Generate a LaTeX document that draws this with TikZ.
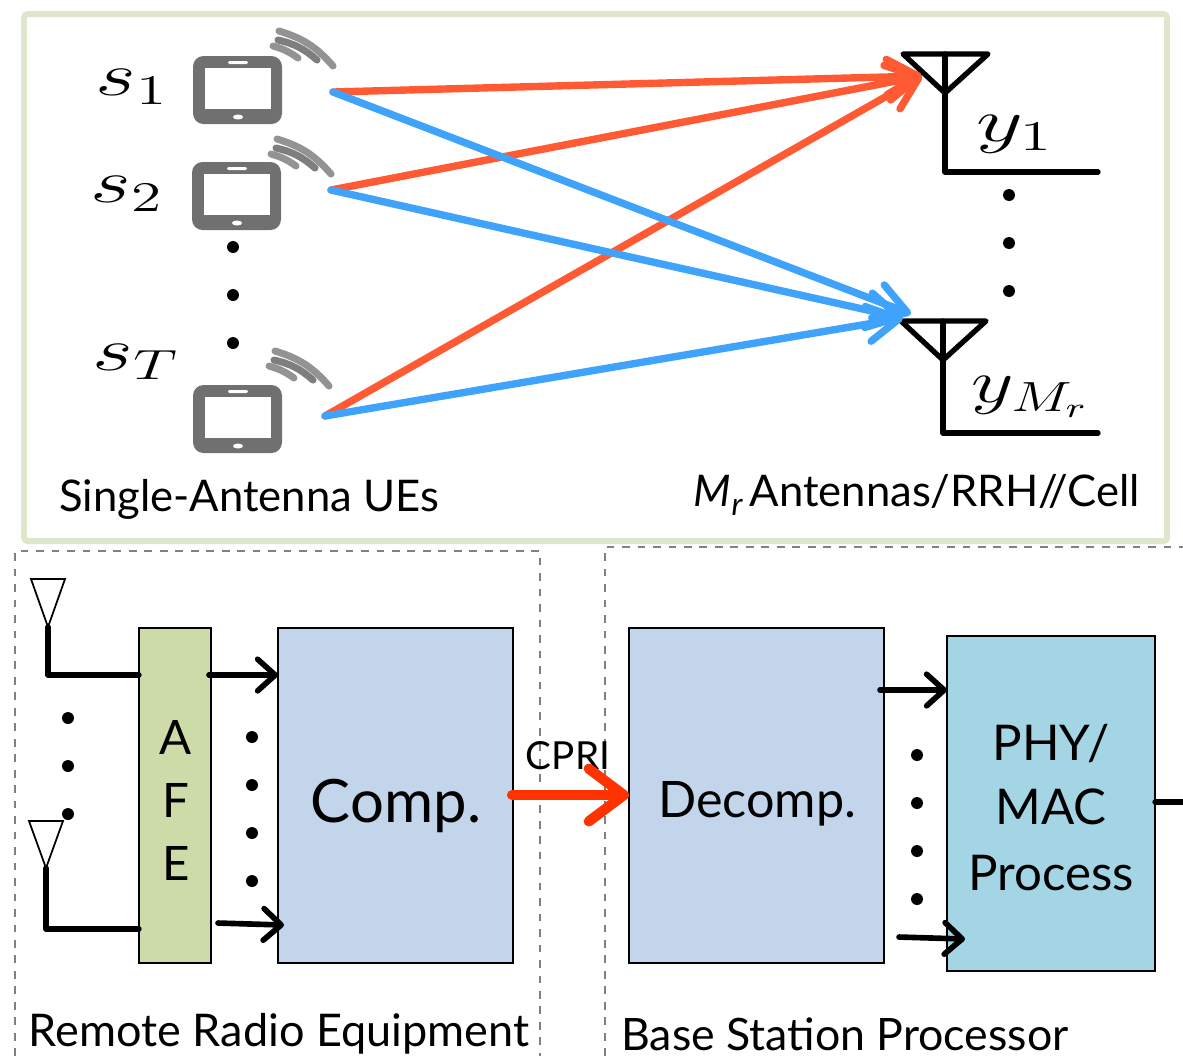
\documentclass[tikz,border=0pt]{standalone}
\usepackage{fontspec}
\setmainfont{Lato}
\usepackage{amsmath}
\usepackage{graphicx}
\usetikzlibrary{arrows.meta}
\definecolor{framegreen}{HTML}{DEE7CB}
\definecolor{afegreen}{HTML}{CDDBA9}
\definecolor{compblue}{HTML}{C3D5EA}
\definecolor{phyblue}{HTML}{A3D5E5}
\definecolor{rayred}{HTML}{FF5A33}
\definecolor{rayblue}{HTML}{3FA3FB}
\definecolor{cprired}{HTML}{FF3300}
\definecolor{phonegray}{HTML}{707070}
\tikzset{
  block/.style={draw=black, line width=0.45pt, anchor=north west, inner sep=0pt, outer sep=0pt},
  rayr/.style={->, rayred, line width=2.1pt, line cap=round},
  rayb/.style={->, rayblue, line width=2.1pt, line cap=round},
  mast/.style={black, line width=1.5pt, line cap=round, line join=round},
  feed/.style={->, black, line width=1.6pt, line cap=round},
  boxline/.style={gray, line width=0.45pt, dash pattern=on 2.2pt off 2.2pt},
  dotnode/.style={circle, fill=black, inner sep=0pt, minimum size=3.4pt},
}
\newcommand{\txt}[1]{\fontsize{#1}{#1}\selectfont}
\newcommand{\wide}[2]{\txt{17}\scalebox{#1}[1]{$#2$}}
% phone drawn from its top left corner, arcs moved by #3 and #4
\newcommand{\mobile}[4]{
  \begin{scope}[shift={(#1,#2)}]
    \fill[phonegray, rounded corners=3pt] (0,0) rectangle (89,68);
    \fill[white] (12,12) rectangle (78,53);
    \fill[white, rounded corners=0.4pt] (35,5) rectangle (55,8);
    \fill[white] (45,61) ellipse (5 and 2.5);
    \begin{scope}[shift={(#3,#4)}]
      \draw[gray!85, line width=2pt, line cap=round] (86,-25) to[bend left=16] (140,10);
      \draw[phonegray!90, line width=2pt, line cap=round] (85,-16) to[bend left=14] (124,4);
      \draw[gray!85, line width=2pt, line cap=round] (80,-10) to[bend left=10] (105,2);
    \end{scope}
  \end{scope}
}
\begin{document}
\begin{tikzpicture}[x=0.01cm, y=-0.01cm, >={Straight Barb[round, length=9pt, width=10pt]}]
  \useasboundingbox (0,0) rectangle (1183,1056);
  % upper frame
  \draw[framegreen, line width=1.7pt, rounded corners=1pt] (24,14) rectangle (1167,541);

  % phones
  \mobile{193}{56}{0}{0}
  \mobile{192}{162}{-1}{2}
  \mobile{193}{385}{-4}{-9}

  % labels of the phones
  \node (s1) at (132,87) {\wide{1.45}{s_1}};
  \node (s2) at (127,194) {\wide{1.45}{s_2}};
  \node (sT) at (136,362) {\wide{1.45}{s_T}};
  \node[dotnode] (d1) at (233,247) {};
  \node[dotnode] (d2) at (233,295) {};
  \node[dotnode] (d3) at (233,343) {};

  % antennas
  \draw[mast] (903,54) -- (988,54) -- (945,93) -- cycle;
  \draw[mast] (945,54) -- (945,172) -- (1098,172);
  \draw[mast] (901,321) -- (986,321) -- (943,360) -- cycle;
  \draw[mast] (943,321) -- (943,433) -- (1098,433);
  \node (y1) at (1015,134) {\wide{1.5}{y_1}};
  \node (yM) at (1031,397) {\wide{1.36}{y_{M_r}}};
  \node[dotnode] (d4) at (1009,195) {};
  \node[dotnode] (d5) at (1009,243) {};
  \node[dotnode] (d6) at (1009,291) {};

  % ray ends
  \coordinate (ue1) at (333,92);
  \coordinate (ue2) at (331,190);
  \coordinate (ue3) at (325,416);
  \coordinate (rx1) at (922,76);
  \coordinate (rx2) at (911,314);
  \coordinate (rx3) at (903,318);

  \draw[rayr] (ue1) -- (rx1);
  \draw[rayr] (ue2) -- (rx1);
  \draw[rayr] (ue3) -- (rx1);
  \draw[rayb] (ue1) -- (rx2);
  \draw[rayb] (ue2) -- (rx3);
  \draw[rayb] (ue3) -- (rx3);

  \node (ues) at (249,499) {\txt{12.4}Single-Antenna UEs};
  \node (cell) at (917,495) {\txt{12.4}\textit{M\raisebox{-0.4ex}{\txt{9}r}}\,Antennas/RRH//Cell};

  % dashed boxes
  \draw[boxline] (15,1056) -- (15,551) -- (540,551) -- (540,1056);
  \draw[boxline] (605,1056) -- (605,547) -- (1183,547);

  % blocks
  \node[block, fill=afegreen, minimum width=72*0.2845pt, minimum height=335*0.2845pt] (afe) at (139,628) {};
  \node[block, fill=compblue, minimum width=235*0.2845pt, minimum height=335*0.2845pt] (comp) at (278,628) {};
  \node[block, fill=compblue, minimum width=255*0.2845pt, minimum height=335*0.2845pt] (decomp) at (629,628) {};
  \node[block, fill=phyblue, minimum width=208*0.2845pt, minimum height=335*0.2845pt] (phy) at (947,636) {};

  \node (a) at (176,737) {\txt{13.5}A};
  \node (f) at (176,800) {\txt{13.5}F};
  \node (e) at (176,863) {\txt{13.5}E};
  \node (comptxt) at (396,806) {\txt{17}Comp.};
  \node (decomptxt) at (757,804) {\txt{14.3}Decomp.};
  \node (phytxt) at (1051,743) {\txt{14}PHY/};
  \node (mactxt) at (1051,807) {\txt{14}MAC};
  \node (proctxt) at (1051,873) {\txt{14}Process};

  % small antennas
  \draw[black, line width=0.5pt] (31,579) -- (65,579) -- (48,627) -- cycle;
  \draw[black, line width=0.5pt] (29,821) -- (63,821) -- (46,868) -- cycle;
  \draw[mast] (48,627) -- (48,675) -- (afe.west |- 0,675);
  \draw[mast] (46,868) -- (46,929) -- (afe.west |- 0,929);

  \node[dotnode] (d7) at (68,718) {};
  \node[dotnode] (d8) at (68,766) {};
  \node[dotnode] (d9) at (68,814) {};
  \node[dotnode] (d10) at (252,737) {};
  \node[dotnode] (d11) at (252,785) {};
  \node[dotnode] (d12) at (252,833) {};
  \node[dotnode] (d13) at (252,881) {};
  \node[dotnode] (d14) at (917,755) {};
  \node[dotnode] (d15) at (917,803) {};
  \node[dotnode] (d16) at (917,851) {};
  \node[dotnode] (d17) at (917,899) {};

  % feeds between the blocks
  \coordinate (f1) at (209,675);
  \coordinate (f2) at (218,923);
  \coordinate (f3) at (880,690);
  \coordinate (f4) at (899,937);
  \coordinate (g2) at (284,925);
  \coordinate (g4) at (965,939);
  \coordinate (out) at (1183,802);
  \begin{scope}[>={Straight Barb[round, length=5pt, width=9pt]}]
    \draw[feed] (f1) -- (comp.west |- f1);
    \draw[feed] (f2) -- (g2);
    \draw[feed] (f3) -- (phy.west |- f3);
    \draw[feed] (f4) -- (g4);
    \draw[feed, -] (phy.east |- out) -- (out);
  \end{scope}

  \node (cpri) at (568,756) {\txt{11}CPRI};
  \coordinate (c1) at (512,795);
  \draw[->, cprired, line width=2.9pt, line cap=round, >={Straight Barb[round, length=10pt, width=15pt]}] (c1) -- (decomp.west |- c1);

  \node (rre) at (279,1034) {\txt{12.8}Remote Radio Equipment};
  \node (bsp) at (845,1034) {\txt{12.7}Base Station Processor};
\end{tikzpicture}
\end{document}
